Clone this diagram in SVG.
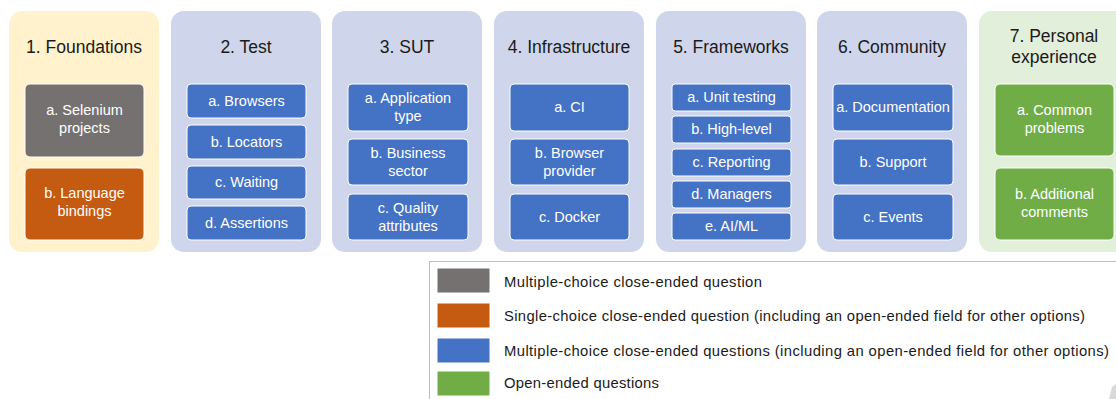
<svg xmlns="http://www.w3.org/2000/svg" width="1116" height="399" viewBox="0 0 1116 399">
<style>
.col{stroke:none}
.yel{fill:#FFF2CC}
.blu{fill:#CFD5EA}
.grn{fill:#E2EFDA}
.title{font-family:"Liberation Sans",Arial,sans-serif;font-size:17.5px;fill:#1a1a1a;text-anchor:middle}
.box{stroke:#ffffff;stroke-width:1}
.b{fill:#4472C4}
.g{fill:#767171}
.o{fill:#C55A11}
.gr{fill:#70AD47}
.lbl{font-family:"Liberation Sans",Arial,sans-serif;font-size:14.5px;fill:#ffffff;text-anchor:middle}
.leg{font-family:"Liberation Sans",Arial,sans-serif;font-size:14.8px;fill:#1a1a1a}
</style>
<rect width="1116" height="399" fill="#ffffff"/>
<g id="connectors"></g>

<g id="col1">
<rect class="col yel" x="9" y="11" width="150" height="241" rx="13"/>
<text class="title" x="84" y="53">1. Foundations</text>
<g id="col1a"><rect class="box g" x="25" y="84" width="119" height="73" rx="5"/>
<text class="lbl" x="84.5" y="115">a. Selenium</text><text class="lbl" x="84.5" y="133">projects</text></g>
<g id="col1b"><rect class="box o" x="25" y="168" width="119" height="72" rx="5"/>
<text class="lbl" x="84.5" y="198">b. Language</text><text class="lbl" x="84.5" y="216">bindings</text></g>
</g>

<g id="col2">
<rect class="col blu" x="171" y="11" width="150" height="241" rx="13"/>
<text class="title" x="246" y="53">2. Test</text>
<g id="col2a"><rect class="box b" x="187" y="84" width="119" height="34" rx="4"/><text class="lbl" x="246.5" y="106">a. Browsers</text></g>
<g id="col2b"><rect class="box b" x="187" y="125" width="119" height="34" rx="4"/><text class="lbl" x="246.5" y="147">b. Locators</text></g>
<g id="col2c"><rect class="box b" x="187" y="166" width="119" height="33" rx="4"/><text class="lbl" x="246.5" y="187">c. Waiting</text></g>
<g id="col2d"><rect class="box b" x="187" y="206" width="119" height="34" rx="4"/><text class="lbl" x="246.5" y="228">d. Assertions</text></g>
</g>

<g id="col3">
<rect class="col blu" x="332" y="11" width="150" height="241" rx="13"/>
<text class="title" x="407" y="53">3. SUT</text>
<g id="col3a"><rect class="box b" x="348" y="84" width="120" height="47" rx="4"/>
<text class="lbl" x="408" y="103">a. Application</text><text class="lbl" x="408" y="121">type</text></g>
<g id="col3b"><rect class="box b" x="348" y="139" width="120" height="46" rx="4"/>
<text class="lbl" x="408" y="158">b. Business</text><text class="lbl" x="408" y="176">sector</text></g>
<g id="col3c"><rect class="box b" x="348" y="194" width="120" height="46" rx="4"/>
<text class="lbl" x="408" y="213">c. Quality</text><text class="lbl" x="408" y="231">attributes</text></g>
</g>

<g id="col4">
<rect class="col blu" x="494" y="11" width="150" height="241" rx="13"/>
<text class="title" x="569" y="53">4. Infrastructure</text>
<g id="col4a"><rect class="box b" x="510" y="84" width="119" height="47" rx="4"/><text class="lbl" x="569.5" y="112">a. CI</text></g>
<g id="col4b"><rect class="box b" x="510" y="139" width="119" height="46" rx="4"/>
<text class="lbl" x="569.5" y="158">b. Browser</text><text class="lbl" x="569.5" y="176">provider</text></g>
<g id="col4c"><rect class="box b" x="510" y="194" width="119" height="46" rx="4"/><text class="lbl" x="569.5" y="222">c. Docker</text></g>
</g>

<g id="col5">
<rect class="col blu" x="656" y="11" width="150" height="241" rx="13"/>
<text class="title" x="731" y="53">5. Frameworks</text>
<g id="col5a"><rect class="box b" x="672" y="84" width="119" height="27" rx="3"/><text class="lbl" x="731.5" y="102">a. Unit testing</text></g>
<g id="col5b"><rect class="box b" x="672" y="116" width="119" height="27" rx="3"/><text class="lbl" x="731.5" y="134">b. High-level</text></g>
<g id="col5c"><rect class="box b" x="672" y="149" width="119" height="27" rx="3"/><text class="lbl" x="731.5" y="167">c. Reporting</text></g>
<g id="col5d"><rect class="box b" x="672" y="181" width="119" height="27" rx="3"/><text class="lbl" x="731.5" y="199">d. Managers</text></g>
<g id="col5e"><rect class="box b" x="672" y="213" width="119" height="27" rx="3"/><text class="lbl" x="731.5" y="231">e. AI/ML</text></g>
</g>

<g id="col6">
<rect class="col blu" x="817" y="11" width="150" height="241" rx="13"/>
<text class="title" x="892" y="53">6. Community</text>
<g id="col6a"><rect class="box b" x="833" y="84" width="120" height="47" rx="4"/><text class="lbl" x="893" y="112">a. Documentation</text></g>
<g id="col6b"><rect class="box b" x="833" y="139" width="120" height="46" rx="4"/><text class="lbl" x="893" y="167">b. Support</text></g>
<g id="col6c"><rect class="box b" x="833" y="194" width="120" height="46" rx="4"/><text class="lbl" x="893" y="222">c. Events</text></g>
</g>

<g id="col7">
<rect class="col grn" x="979" y="11" width="150" height="241" rx="13"/>
<text class="title" x="1054" y="42">7. Personal</text>
<text class="title" x="1054" y="63">experience</text>
<g id="col7a"><rect class="box gr" x="995" y="84" width="119" height="72" rx="5"/>
<text class="lbl" x="1054.5" y="115">a. Common</text><text class="lbl" x="1054.5" y="133">problems</text></g>
<g id="col7b"><rect class="box gr" x="995" y="168" width="119" height="72" rx="5"/>
<text class="lbl" x="1054.5" y="199">b. Additional</text><text class="lbl" x="1054.5" y="217">comments</text></g>
</g>

<g id="legend">
<rect x="429.5" y="261.5" width="700" height="150" fill="#ffffff" stroke="#BFBFBF" stroke-width="1"/>
<rect x="437" y="268" width="53" height="25" fill="#767171" stroke="#ffffff" stroke-width="1"/>
<rect x="437" y="303" width="53" height="25" fill="#C55A11" stroke="#ffffff" stroke-width="1"/>
<rect x="437" y="338" width="53" height="25" fill="#4472C4" stroke="#ffffff" stroke-width="1"/>
<rect x="437" y="371" width="53" height="25" fill="#70AD47" stroke="#ffffff" stroke-width="1"/>
<text class="leg" x="504" y="287" textLength="258" lengthAdjust="spacing">Multiple-choice close-ended question</text>
<text class="leg" x="504" y="321" textLength="581" lengthAdjust="spacing">Single-choice close-ended question (including an open-ended field for other options)</text>
<text class="leg" x="504" y="356" textLength="605" lengthAdjust="spacing">Multiple-choice close-ended questions (including an open-ended field for other options)</text>
<text class="leg" x="504" y="388" textLength="155" lengthAdjust="spacing">Open-ended questions</text>
<polygon points="1109,399 1112,387 1116,384 1116,399" fill="#D9D9D9"/>
</g>
</svg>
